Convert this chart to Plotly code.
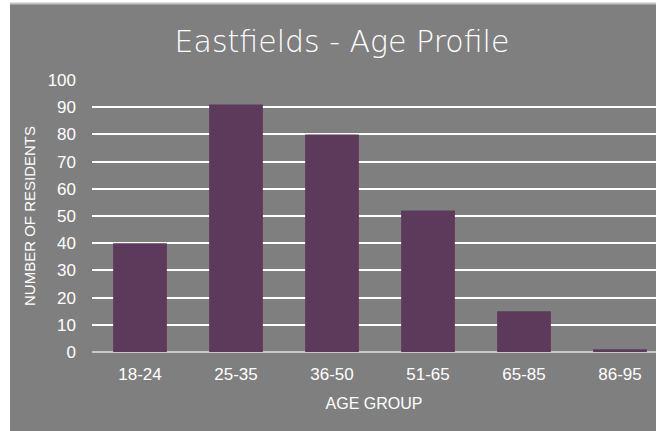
import plotly.graph_objects as go

categories = ["18-24", "25-35", "36-50", "51-65", "65-85", "86-95"]
residents = [40, 91, 80, 52, 15, 1]
y_ticks = [0, 10, 20, 30, 40, 50, 60, 70, 80, 90, 100]

W, H = 656, 431
L, R, T, B = 92, 0, 80, 79
pw, ph = W - L - R, H - T - B

def px_x(x):
    return (x - L) / pw

def px_y(y):
    return (H - B - y) / ph

fig = go.Figure()
fig.add_trace(go.Bar(
    x=categories, y=residents,
    marker=dict(color="#5d3a5b", line=dict(width=0)),
    hoverinfo="x+y",
))

font = "Liberation Sans, Arial, sans-serif"
fig.update_layout(
    width=W, height=H,
    margin=dict(l=L, r=R, t=T, b=B, pad=0),
    paper_bgcolor="white",
    plot_bgcolor="rgba(0,0,0,0)",
    bargap=0.44,
    showlegend=False,
    title=dict(text="Eastfields - Age Profile", x=342 / W, xanchor="center",
               y=1 - 41 / H, yanchor="middle",
               font=dict(family="DejaVu Sans, sans-serif", size=30, color="white", weight=300)),
    xaxis=dict(
        range=[-0.5, 5.375], showgrid=False, ticks="", showline=False,
        ticklabelstandoff=10,
        tickfont=dict(family=font, size=17, color="white"),
        title=dict(text="AGE GROUP", font=dict(family=font, size=16, color="white"), standoff=14),
        fixedrange=True,
    ),
    yaxis=dict(
        range=[0, 100], tickvals=y_ticks, showgrid=True, gridcolor="white", gridwidth=1.5,
        zeroline=True, zerolinecolor="#c8c8c8", zerolinewidth=2,
        ticks="", showline=False, ticklabelstandoff=15,
        tickfont=dict(family=font, size=17, color="white"),
        title=dict(text="NUMBER OF RESIDENTS", font=dict(family=font, size=15, color="white"), standoff=8),
        fixedrange=True,
    ),
    shapes=[
        dict(type="rect", xref="paper", yref="paper", layer="below",
             x0=px_x(10), x1=px_x(W + 5), y0=px_y(H + 5), y1=px_y(4),
             fillcolor="#7f7f7f", line=dict(width=0)),
        dict(type="line", xref="paper", yref="paper", layer="below",
             x0=px_x(10), x1=px_x(W + 5), y0=px_y(3.5), y1=px_y(3.5),
             line=dict(color="#c4c4c4", width=2)),
    ],
)

fig.write_html("out.html", config={"displayModeBar": False},
               post_script="document.body.style.margin='0';document.body.style.overflow='hidden';")
